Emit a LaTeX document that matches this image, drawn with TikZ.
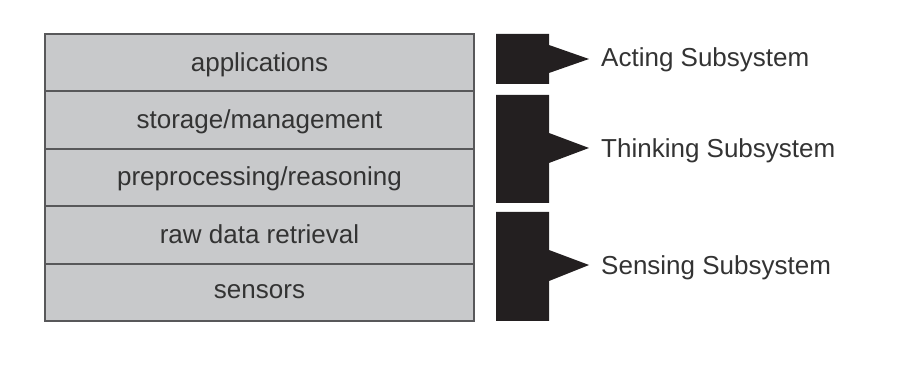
\documentclass[tikz,border=0pt]{standalone}
\usepackage{fontspec}
\setmainfont{Liberation Sans}
\usetikzlibrary{positioning}

\definecolor{layergray}{HTML}{C8C9CB}
\definecolor{edgegray}{HTML}{58585A}
\definecolor{inkdark}{HTML}{231F20}
\definecolor{textgray}{HTML}{333333}

\tikzset{
  layer/.style={draw=edgegray,line width=2pt,fill=layergray,text=textgray,
    minimum width=429pt,minimum height=57.4pt,inner sep=0pt,outer sep=0pt,
    text depth=2pt,font=\fontsize{26}{31}\selectfont},
  bracket/.style={fill=inkdark,draw=none},
  subsys/.style={anchor=west,text=textgray,inner sep=0pt,
    font=\fontsize{26}{31}\selectfont}
}

\begin{document}
\begin{tikzpicture}[x=1pt,y=-1pt]
\useasboundingbox (0,0) rectangle (914,374);

\node[layer,anchor=north west] (appl) at (45,34) {applications};
\node[layer,below=0pt of appl] (stor) {storage/management};
\node[layer,below=0pt of stor] (prep) {preprocessing/reasoning};
\node[layer,below=0pt of prep] (raw) {raw data retrieval};
\node[layer,below=0pt of raw] (sens) {sensors};

% black brackets pointing to the subsystem labels
\coordinate (tA) at (589,59);
\coordinate (tT) at (589,148);
\coordinate (tS) at (589,265);

\fill[bracket] (496,34) -- (549,34) -- (549,45) -- (tA)
  -- (549,73) -- (549,84) -- (496,84) -- cycle;
\fill[bracket] (496,95) -- (549,95) -- (549,133) -- (tT)
  -- (549,163) -- (549,203) -- (496,203) -- cycle;
\fill[bracket] (496,212) -- (549,212) -- (549,250) -- (tS)
  -- (549,281) -- (549,321) -- (496,321) -- cycle;

\node[subsys] (acting) at (601,60) {Acting Subsystem};
\node[subsys] (thinking) at (601,151) {Thinking Subsystem};
\node[subsys] (sensing) at (601,268) {Sensing Subsystem};

\end{tikzpicture}
\end{document}
